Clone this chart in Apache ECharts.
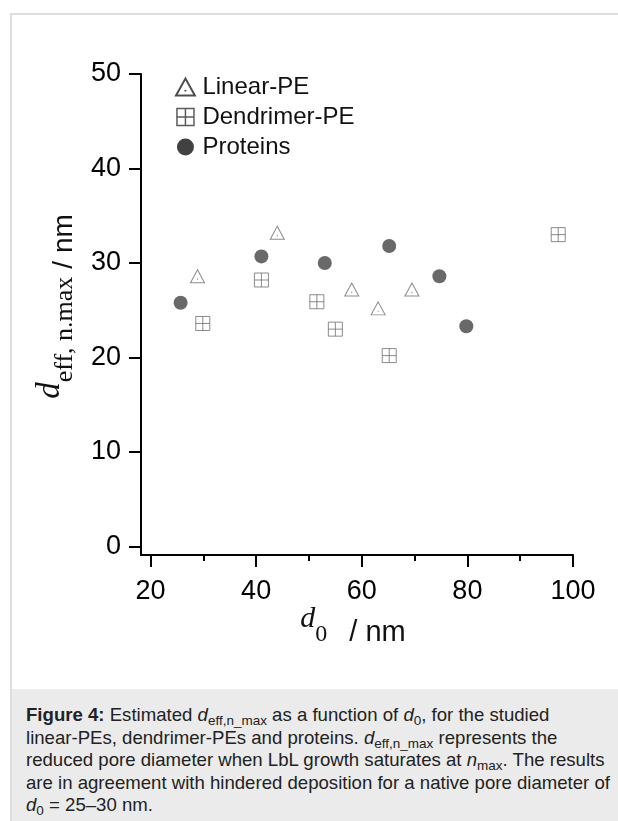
<!DOCTYPE html>
<html>
<head>
<meta charset="utf-8">
<script src="https://cdn.jsdelivr.net/npm/echarts@6/dist/echarts.min.js"></script>
<style>
  body { margin: 0; background: #fff; }
  #frame { position: absolute; left: 10px; top: 13px; width: 640px; height: 840px; border: 2px solid #dedede; box-sizing: border-box; }
  #chart { position: absolute; left: 0; top: 0; width: 618px; height: 689px; }
  #caption { position: absolute; left: 12px; top: 689px; width: 606px; height: 132px; background: #ebebeb;
    font-family: 'Liberation Sans', Arial, sans-serif; font-size: 18.6px; line-height: 22.5px; color: #222;
    padding: 15px 0 0 14px; box-sizing: border-box; white-space: nowrap; }
  #caption sub { font-size: 13.5px; line-height: 0; vertical-align: -4px; }
</style>
</head>
<body>
<div id="frame"></div>
<div id="chart"></div>
<div id="caption">
  <b>Figure 4:</b> Estimated <i>d</i><sub>eff,n_max</sub> as a function of <i>d</i><sub>0</sub>, for the studied<br>
  linear-PEs, dendrimer-PEs and proteins. <i>d</i><sub>eff,n_max</sub> represents the<br>
  reduced pore diameter when LbL growth saturates at <i>n</i><sub>max</sub>. The results<br>
  are in agreement with hindered deposition for a native pore diameter of<br>
  <i>d</i><sub>0</sub> = 25–30 nm.
</div>
<script>
// 数据：读自原图
const linearX = [28.9, 44.0, 58.1, 63.1, 69.5]
const linearY = [28.6, 33.2, 27.2, 25.2, 27.2]
const dendX = [29.9, 41.0, 51.5, 55.0, 65.2, 97.2]
const dendY = [23.6, 28.2, 25.9, 23.0, 20.2, 33.0]
const protX = [25.7, 41.0, 53.0, 65.2, 74.7, 79.8]
const protY = [25.8, 30.7, 30.0, 31.8, 28.6, 23.3]
const yTicks = [0, 10, 20, 30, 40, 50]
const xMajor = [20, 40, 60, 80, 100]
const xMinor = [30, 50, 70, 90]
const seriesNames = ['Linear-PE', 'Dendrimer-PE', 'Proteins']

// 符号
const triPath = 'path://M5,0L10,9L0,9Z M5,6.1L5,6.9'
const boxPath = 'path://M0,0H10V10H0Z M5,0V10 M0,5H10'

function pairs (xs, ys) {
  let out = []
  for (let i = 0; i < xs.length; i++) {
    out.push([xs[i], ys[i]])
  }
  return out
}

const sans = 'Liberation Sans'
const serif = 'Liberation Serif'

// 轴名称的富文本样式（下标靠 lineHeight + bottom 压低）
const xNameRich = {
  d: { fontFamily: serif, fontStyle: 'italic', fontSize: 30, lineHeight: 56, color: '#111' },
  s: { fontFamily: serif, fontSize: 24, lineHeight: 12, verticalAlign: 'bottom', color: '#111' },
  u: { fontFamily: sans, fontSize: 29, lineHeight: 55, verticalAlign: 'bottom', color: '#111', padding: [0, 0, 0, 22] }
}
const yNameRich = {
  d: { fontFamily: serif, fontStyle: 'italic', fontSize: 33, lineHeight: 56, color: '#111' },
  s: { fontFamily: serif, fontSize: 26, lineHeight: 6, verticalAlign: 'bottom', color: '#111' },
  u: { fontFamily: sans, fontSize: 28, lineHeight: 44, verticalAlign: 'bottom', color: '#111', padding: [0, 0, 0, 8] }
}

let chart = echarts.init(document.getElementById('chart'), null, { renderer: 'canvas' })

let option = {
  animation: false,
  grid: { left: 141, right: 45, top: 74, bottom: 134 },
  legend: {
    orient: 'vertical',
    left: 170,
    top: 70,
    itemGap: 6,
    itemWidth: 24,
    itemHeight: 17,
    textStyle: { fontFamily: sans, fontSize: 24, lineHeight: 24, color: '#111' },
    data: [
      { name: seriesNames[0], itemStyle: { color: '#fff', borderColor: '#222', borderWidth: 2 } },
      { name: seriesNames[1], itemStyle: { color: '#fff', borderColor: '#333', borderWidth: 1.5 } },
      { name: seriesNames[2], itemStyle: { color: '#111' } }
    ]
  },
  xAxis: [
    {
      type: 'value',
      min: 18.2,
      max: 100,
      position: 'bottom',
      splitLine: { show: false },
      axisLine: { show: true, onZero: false, lineStyle: { color: '#000', width: 2 } },
      axisTick: { show: true, inside: false, length: 12, customValues: xMajor, lineStyle: { color: '#000', width: 2 } },
      axisLabel: { show: true, customValues: xMajor, margin: 23, fontFamily: sans, fontSize: 27, color: '#000' },
      name: '{d|d}{s|0}{u|/ nm}',
      nameLocation: 'middle',
      nameGap: 36,
      nameMoveOverlap: false,
      nameTextStyle: { rich: xNameRich, padding: [0, 8, 0, 0] }
    },
    {
      type: 'value',
      min: 18.2,
      max: 100,
      position: 'bottom',
      splitLine: { show: false },
      axisLine: { show: false, onZero: false },
      axisTick: { show: true, inside: false, length: 6, customValues: xMinor, lineStyle: { color: '#000', width: 2 } },
      axisLabel: { show: false }
    }
  ],
  yAxis: {
    type: 'value',
    min: -0.9,
    max: 50,
    splitLine: { show: false },
    axisLine: { show: true, onZero: false, lineStyle: { color: '#000', width: 2 } },
    axisTick: { show: true, inside: false, length: 12, customValues: yTicks, lineStyle: { color: '#000', width: 2 } },
    axisLabel: { show: true, customValues: yTicks, margin: 20, fontFamily: sans, fontSize: 27, color: '#000' },
    name: '{d|d}{s|eff, n.max}{u|/ nm}',
    nameLocation: 'middle',
    nameRotate: 90,
    nameGap: 63,
    nameMoveOverlap: false,
    nameTextStyle: { rich: yNameRich, padding: [0, 0, 0, 16] }
  },
  series: [
    {
      name: seriesNames[0],
      type: 'scatter',
      symbol: triPath,
      symbolSize: [14, 13],
      itemStyle: { color: 'rgba(255,255,255,0)', borderColor: '#6e6e6e', borderWidth: 1 },
      emphasis: { disabled: true },
      data: pairs(linearX, linearY)
    },
    {
      name: seriesNames[1],
      type: 'scatter',
      symbol: boxPath,
      symbolSize: 14,
      itemStyle: { color: 'rgba(255,255,255,0)', borderColor: '#6e6e6e', borderWidth: 1 },
      emphasis: { disabled: true },
      data: pairs(dendX, dendY)
    },
    {
      name: seriesNames[2],
      type: 'scatter',
      symbol: 'circle',
      symbolSize: 14,
      itemStyle: { color: '#444' },
      emphasis: { disabled: true },
      data: pairs(protX, protY)
    }
  ]
}

chart.setOption(option)
</script>
</body>
</html>
